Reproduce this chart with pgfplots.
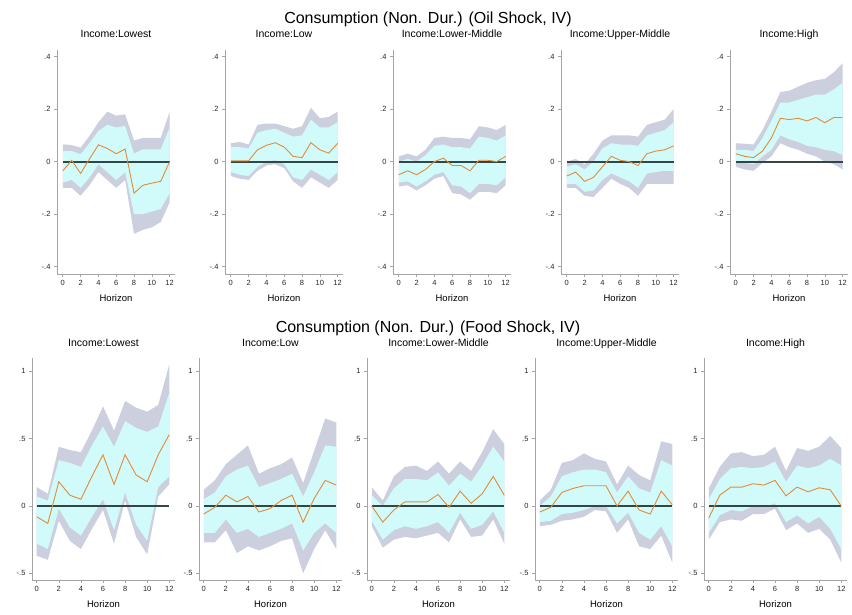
\documentclass[border=0pt]{standalone}
\usepackage{pgfplots}
\pgfplotsset{compat=1.18}
\usepackage{pgfplotstable}
\usepgfplotslibrary{fillbetween}
\usepackage{fontspec}
\setmainfont{Liberation Sans}
\definecolor{bandgray}{RGB}{204,207,221}
\definecolor{bandcyan}{RGB}{209,251,251}
\definecolor{irforange}{RGB}{228,138,55}
\definecolor{zeroline}{RGB}{50,70,70}
\definecolor{axisgray}{RGB}{165,165,165}

% ---------- Oil shock ----------
\pgfplotstableread{
h m cu cl gu gl
0 -0.035 0.040 -0.080 0.066 -0.100
1 0.005 0.040 -0.070 0.063 -0.100
2 -0.045 0.028 -0.100 0.053 -0.130
3 0.010 0.070 -0.060 0.098 -0.090
4 0.064 0.117 -0.010 0.150 -0.040
5 0.050 0.140 -0.040 0.190 -0.070
6 0.030 0.130 -0.070 0.175 -0.100
7 0.048 0.136 -0.040 0.180 -0.070
8 -0.120 0.030 -0.200 0.080 -0.275
9 -0.090 0.047 -0.200 0.090 -0.260
10 -0.082 0.047 -0.190 0.090 -0.250
11 -0.075 0.047 -0.180 0.090 -0.230
12 0.000 0.130 -0.120 0.190 -0.155
}\oilA
\pgfplotstableread{
h m cu cl gu gl
0 0.003 0.055 -0.040 0.070 -0.055
1 0.003 0.055 -0.050 0.075 -0.065
2 0.003 0.050 -0.055 0.065 -0.070
3 0.045 0.110 -0.020 0.140 -0.035
4 0.062 0.120 0.000 0.145 -0.015
5 0.072 0.125 0.005 0.145 -0.010
6 0.055 0.110 -0.010 0.135 -0.025
7 0.020 0.095 -0.060 0.125 -0.075
8 0.015 0.100 -0.070 0.135 -0.100
9 0.072 0.160 -0.030 0.205 -0.060
10 0.045 0.130 -0.050 0.165 -0.080
11 0.032 0.130 -0.070 0.170 -0.100
12 0.070 0.150 -0.040 0.190 -0.070
}\oilB
\pgfplotstableread{
h m cu cl gu gl
0 -0.050 0.000 -0.080 0.020 -0.095
1 -0.035 0.010 -0.075 0.030 -0.090
2 -0.050 0.000 -0.095 0.020 -0.110
3 -0.030 0.025 -0.075 0.045 -0.090
4 0.000 0.060 -0.050 0.090 -0.065
5 0.013 0.065 -0.040 0.095 -0.055
6 -0.015 0.055 -0.090 0.090 -0.120
7 -0.015 0.055 -0.095 0.090 -0.125
8 -0.035 0.050 -0.120 0.085 -0.145
9 0.005 0.095 -0.085 0.135 -0.115
10 0.005 0.090 -0.085 0.130 -0.115
11 0.000 0.080 -0.090 0.120 -0.120
12 0.020 0.100 -0.060 0.140 -0.090
}\oilC
\pgfplotstableread{
h m cu cl gu gl
0 -0.055 -0.020 -0.085 0.000 -0.100
1 -0.040 -0.010 -0.085 0.010 -0.100
2 -0.075 -0.030 -0.115 -0.010 -0.130
3 -0.060 0.000 -0.110 0.030 -0.135
4 -0.020 0.050 -0.070 0.080 -0.100
5 0.020 0.070 -0.045 0.100 -0.065
6 0.005 0.065 -0.060 0.100 -0.085
7 0.000 0.065 -0.075 0.100 -0.100
8 -0.015 0.060 -0.100 0.095 -0.130
9 0.030 0.100 -0.045 0.140 -0.085
10 0.040 0.110 -0.040 0.150 -0.085
11 0.045 0.120 -0.035 0.160 -0.085
12 0.060 0.150 -0.035 0.200 -0.085
}\oilD
\pgfplotstableread{
h m cu cl gu gl
0 0.030 0.045 0.000 0.070 -0.020
1 0.020 0.045 -0.005 0.068 -0.030
2 0.015 0.040 -0.010 0.065 -0.035
3 0.040 0.090 0.020 0.120 -0.005
4 0.090 0.155 0.045 0.190 0.020
5 0.165 0.225 0.100 0.265 0.070
6 0.160 0.225 0.085 0.270 0.055
7 0.165 0.235 0.075 0.285 0.045
8 0.155 0.245 0.060 0.300 0.030
9 0.168 0.255 0.055 0.310 0.020
10 0.148 0.255 0.045 0.315 0.000
11 0.168 0.275 0.040 0.340 -0.010
12 0.168 0.300 0.025 0.375 -0.030
}\oilE
% ---------- Food shock ----------
\pgfplotstableread{
h m cu cl gu gl
0 -0.080 0.070 -0.280 0.140 -0.370
1 -0.130 0.040 -0.320 0.090 -0.400
2 0.180 0.340 -0.020 0.440 -0.110
3 0.080 0.320 -0.160 0.415 -0.260
4 0.050 0.290 -0.220 0.400 -0.320
5 0.220 0.450 -0.080 0.560 -0.170
6 0.380 0.590 0.050 0.740 -0.030
7 0.160 0.440 -0.180 0.560 -0.280
8 0.380 0.630 0.100 0.780 0.040
9 0.230 0.580 -0.140 0.730 -0.230
10 0.180 0.550 -0.260 0.700 -0.360
11 0.380 0.590 0.140 0.750 0.070
12 0.530 0.840 0.220 1.050 0.160
}\foodA
\pgfplotstableread{
h m cu cl gu gl
0 -0.060 0.050 -0.200 0.120 -0.270
1 -0.010 0.100 -0.200 0.190 -0.270
2 0.080 0.220 -0.100 0.310 -0.180
3 0.030 0.270 -0.200 0.380 -0.350
4 0.070 0.300 -0.170 0.450 -0.300
5 -0.045 0.140 -0.230 0.240 -0.330
6 -0.020 0.170 -0.200 0.280 -0.300
7 0.040 0.200 -0.170 0.310 -0.260
8 0.080 0.240 -0.130 0.360 -0.240
9 -0.120 0.070 -0.330 0.170 -0.500
10 0.055 0.250 -0.200 0.410 -0.320
11 0.190 0.450 -0.130 0.650 -0.180
12 0.155 0.440 -0.200 0.620 -0.320
}\foodB
\pgfplotstableread{
h m cu cl gu gl
0 0.000 0.080 -0.110 0.140 -0.150
1 -0.120 0.000 -0.250 0.040 -0.310
2 -0.030 0.130 -0.180 0.220 -0.250
3 0.030 0.200 -0.150 0.290 -0.230
4 0.030 0.200 -0.170 0.300 -0.240
5 0.030 0.190 -0.150 0.260 -0.220
6 0.085 0.250 -0.120 0.330 -0.200
7 -0.010 0.150 -0.200 0.240 -0.270
8 0.110 0.240 -0.050 0.330 -0.100
9 0.020 0.180 -0.170 0.260 -0.230
10 0.090 0.300 -0.140 0.400 -0.220
11 0.220 0.440 -0.040 0.570 -0.100
12 0.080 0.330 -0.200 0.460 -0.280
}\foodC
\pgfplotstableread{
h m cu cl gu gl
0 -0.045 0.000 -0.120 0.040 -0.150
1 -0.010 0.070 -0.110 0.120 -0.140
2 0.100 0.220 -0.060 0.320 -0.110
3 0.130 0.250 -0.050 0.340 -0.100
4 0.150 0.270 -0.030 0.390 -0.080
5 0.150 0.270 0.000 0.350 -0.030
6 0.150 0.250 0.000 0.330 -0.040
7 0.000 0.100 -0.130 0.160 -0.200
8 0.110 0.220 -0.050 0.300 -0.100
9 -0.030 0.130 -0.200 0.230 -0.300
10 -0.060 0.100 -0.250 0.190 -0.320
11 0.110 0.340 -0.150 0.480 -0.220
12 0.010 0.300 -0.300 0.460 -0.420
}\foodD
\pgfplotstableread{
h m cu cl gu gl
0 -0.090 0.050 -0.200 0.130 -0.250
1 0.080 0.200 -0.070 0.290 -0.120
2 0.140 0.280 -0.030 0.390 -0.100
3 0.140 0.290 -0.040 0.400 -0.110
4 0.165 0.280 0.000 0.370 -0.060
5 0.155 0.290 -0.010 0.380 -0.060
6 0.190 0.330 0.020 0.440 -0.020
7 0.075 0.180 -0.120 0.260 -0.180
8 0.140 0.300 -0.070 0.430 -0.130
9 0.105 0.280 -0.130 0.410 -0.200
10 0.135 0.300 -0.080 0.440 -0.170
11 0.120 0.350 -0.170 0.520 -0.250
12 0.000 0.300 -0.320 0.430 -0.420
}\foodE

\pgfplotsset{
  irfbase/.style={
    scale only axis,
    axis x line*=bottom, axis y line*=left,
    axis line style={axisgray, line width=0.6pt},
    tick align=outside, major tick length=3pt,
    tick style={axisgray, line width=0.6pt},
    xtick={0,2,...,12},
    ticklabel style={font=\fontsize{7.5}{8}\selectfont, text=black!85},
    /pgf/number format/assume math mode=true,
    xlabel={Horizon},
    xlabel style={font=\fontsize{9.5}{10}\selectfont, at={(0.5,0)}, anchor=base, yshift=-27.5pt},
    title style={font=\fontsize{10.5}{11}\selectfont, at={(0.5,1)}, anchor=base, yshift=6pt, inner sep=0pt},
  },
  irftop/.style={irfbase,
    width=118pt, height=224pt,
    xmin=-0.65, xmax=12.6, ymin=-0.428, ymax=0.425,
    ytick={-0.4,-0.2,0,0.2,0.4}, yticklabels={-.4,-.2,0,.2,.4},
  },
  irfbot/.style={irfbase,
    width=143pt, height=222pt,
    xmin=-0.43, xmax=12.52, ymin=-0.55, ymax=1.099,
    ytick={-0.5,0,0.5,1}, yticklabels={-.5,0,.5,1},
  },
}

\newcommand{\irfpanel}[5]{%
\begin{axis}[#5, at={(#1pt,#2pt)}, anchor=south west, title={#3}]
\addplot[name path=gu, draw=none, forget plot] table[x=h,y=gu]{#4};
\addplot[name path=gl, draw=none, forget plot] table[x=h,y=gl]{#4};
\addplot[bandgray, draw=none] fill between[of=gu and gl];
\addplot[name path=cu, draw=none, forget plot] table[x=h,y=cu]{#4};
\addplot[name path=cl, draw=none, forget plot] table[x=h,y=cl]{#4};
\addplot[bandcyan, draw=none] fill between[of=cu and cl];
\addplot[zeroline, line width=1.8pt] coordinates {(0,0) (12,0)};
\addplot[irforange, line width=0.9pt] table[x=h,y=m]{#4};
\end{axis}}

\begin{document}
\begin{tikzpicture}
\path (0pt,0pt) rectangle (852pt,614pt);
\node[font=\fontsize{16}{18}\selectfont, anchor=base] at (428pt,590pt) {Consumption (Non. Dur.) (Oil Shock, IV)};
\node[font=\fontsize{16}{18}\selectfont, anchor=base] at (428pt,281pt) {Consumption (Non. Dur.) (Food Shock, IV)};
\irfpanel{57}{340}{Income:Lowest}{\oilA}{irftop}
\irfpanel{225}{340}{Income:Low}{\oilB}{irftop}
\irfpanel{393}{340}{Income:Lower-Middle}{\oilC}{irftop}
\irfpanel{561}{340}{Income:Upper-Middle}{\oilD}{irftop}
\irfpanel{730}{340}{Income:High}{\oilE}{irftop}
\irfpanel{32}{34}{Income:Lowest}{\foodA}{irfbot}
\irfpanel{199}{34}{Income:Low}{\foodB}{irfbot}
\irfpanel{367}{34}{Income:Lower-Middle}{\foodC}{irfbot}
\irfpanel{535}{34}{Income:Upper-Middle}{\foodD}{irfbot}
\irfpanel{704}{34}{Income:High}{\foodE}{irfbot}
\end{tikzpicture}
\end{document}
